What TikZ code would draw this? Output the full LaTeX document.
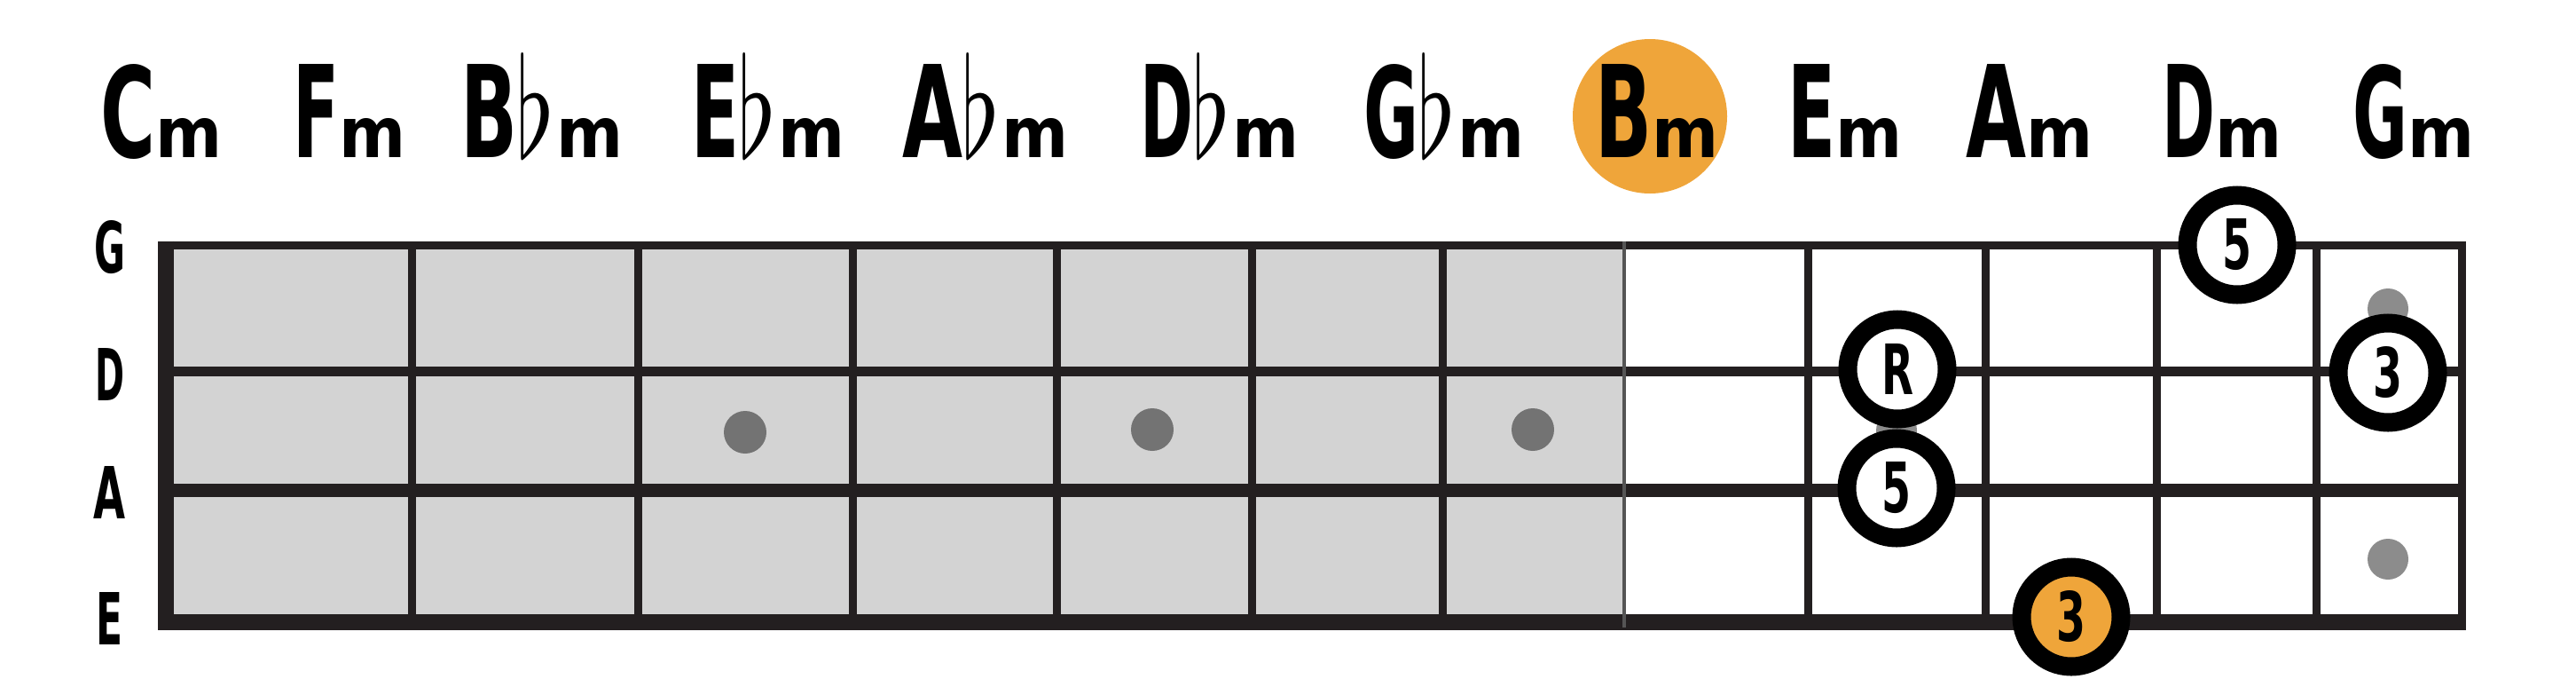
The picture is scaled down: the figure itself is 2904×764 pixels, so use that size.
\documentclass[tikz,border=0pt]{standalone}
\usepackage{fontspec}
\newfontfamily\dvb{DejaVu Sans}
\definecolor{fbgray}{HTML}{D3D3D3}
\definecolor{ln}{HTML}{231F20}
\definecolor{org}{HTML}{EFA53A}
\definecolor{dotL}{HTML}{737373}
\definecolor{dotR}{HTML}{8C8C8C}
\definecolor{edge}{HTML}{555555}
\newcommand\gl[3]{\resizebox{#1pt}{#2pt}{\dvb\bfseries #3}}
\newcommand\flt{\resizebox*{44pt}{118pt}{$\flat$}}
\newcommand\mm{\gl{75}{44}{m}}
\tikzset{
  chord/.style={anchor=base, inner sep=0pt},
  strlab/.style={anchor=center, inner sep=0pt},
  note/.style={circle, draw=black, line width=21pt, fill=white, minimum size=112pt, inner sep=0pt},
  notehl/.style={note, fill=org},
  stringline/.style={draw=ln},
  fretline/.style={draw=ln, line width=9pt},
}
\begin{document}
\begin{tikzpicture}[x=1pt,y=-1pt]
\useasboundingbox[fill=white] (0,0) rectangle (2904,764);
% chord names
\node[circle, fill=org, minimum size=174pt, inner sep=0pt] (bmbg) at (1860,131) {};
\node[chord] (c1) at (182,177) {\gl{62}{105}{C}\mm};
\node[chord] (c2) at (394,177) {\gl{52}{105}{F}\mm};
\node[chord] (c3) at (611,177) {\gl{64}{105}{B}\kern-2pt\flt\kern1pt\mm};
\node[chord] (c4) at (866,177) {\gl{54}{105}{E}\kern-2pt\flt\kern1pt\mm};
\node[chord] (c5) at (1111,177) {\gl{68}{105}{A}\kern-2pt\flt\kern1pt\mm};
\node[chord] (c6) at (1375,177) {\gl{60}{105}{D}\kern-2pt\flt\kern1pt\mm};
\node[chord] (c7) at (1628,177) {\gl{62}{105}{G}\kern-2pt\flt\kern1pt\mm};
\node[chord] (c8) at (1868,177) {\gl{64}{105}{B}\mm};
\node[chord] (c9) at (2080,177) {\gl{54}{105}{E}\mm};
\node[chord] (c10) at (2288,177) {\gl{68}{105}{A}\mm};
\node[chord] (c11) at (2505,177) {\gl{60}{105}{D}\mm};
\node[chord] (c12) at (2721,177) {\gl{62}{105}{G}\mm};
% string labels
\node[strlab] (sG) at (124,279) {\gl{35}{59}{G}};
\node[strlab] (sD) at (124,422) {\gl{33}{59}{D}};
\node[strlab] (sA) at (124,555) {\gl{36}{59}{A}};
\node[strlab] (sE) at (124,697) {\gl{30}{59}{E}};
% fretboard
\fill[fbgray] (187,276) rectangle (1831,701);
\foreach \x in {464,719,961,1191,1411,1626,2038,2238,2431,2611}
  \draw[fretline] (\x,276) -- (\x,701);
\draw[stringline, line width=9pt] (178,276) -- (2779.5,276);
\draw[stringline, line width=11pt] (178,418) -- (2779.5,418);
\draw[stringline, line width=15pt] (178,552) -- (2779.5,552);
\draw[stringline, line width=18pt] (178,701) -- (2779.5,701);
\draw[ln, line width=18pt] (187,271.5) -- (187,710);
\draw[ln, line width=9pt] (2775,271.5) -- (2775,710);
\draw[edge, line width=4pt] (1831,272) -- (1831,707);
% inlay dots
\fill[dotL] (840,487) circle (24pt);
\fill[dotL] (1299,484) circle (24pt);
\fill[dotL] (1728,484) circle (24pt);
\fill[dotR] (2138,485) circle (23pt);
\fill[dotR] (2692,348) circle (23pt);
\fill[dotR] (2692,630) circle (23pt);
% notes
\node[note] (n5a) at (2522,276) {\gl{33}{57}{5}};
\node[note] (nR) at (2139,416) {\gl{36}{57}{R}};
\node[note] (n5b) at (2138,550) {\gl{33}{57}{5}};
\node[note] (n3a) at (2692,420) {\gl{33}{57}{3}};
\node[notehl] (n3b) at (2335,695) {\gl{33}{57}{3}};
\end{tikzpicture}
\end{document}
